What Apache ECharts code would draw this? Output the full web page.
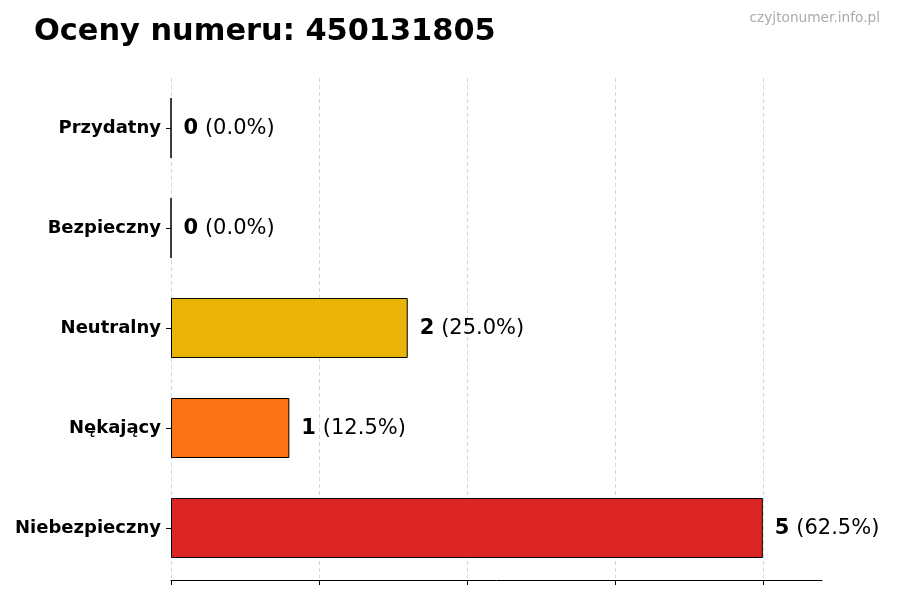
<!DOCTYPE html>
<html>
<head>
<meta charset="utf-8">
<title>Oceny numeru</title>
<script src="https://cdn.jsdelivr.net/npm/echarts@6.0.0/dist/echarts.min.js"></script>
<style>
  html, body { margin: 0; padding: 0; background: #fff; }
  #main { width: 900px; height: 600px; }
</style>
</head>
<body>
<div id="main"></div>
<script>
// dane z wykresu (od dołu do góry)
const categories = ['Niebezpieczny', 'Nękający', 'Neutralny', 'Bezpieczny', 'Przydatny'];
const counts = [5, 1, 2, 0, 0];
const barColors = ['#dc2626', '#f97316', '#eab308', '#22c55e', '#16a34a'];
const xTicks = [0, 1.25, 2.5, 3.75, 5];
const phone = '450131805';

const total = counts.reduce((a, b) => a + b, 0);
const font = 'DejaVu Sans';

const chart = echarts.init(document.getElementById('main'));

chart.setOption({
  animation: false,
  title: [
    {
      text: 'Oceny numeru: ' + phone,
      left: 29, top: 12,
      textStyle: { fontFamily: font, fontSize: 30.4, fontWeight: 'bold', color: '#000' }
    },
    {
      text: 'czyjtonumer.info.pl',
      right: 15, top: 6,
      textStyle: { fontFamily: font, fontSize: 13.7, fontWeight: 'normal', color: '#aaaaaa' }
    }
  ],
  grid: { left: 171, right: 78, top: 78, bottom: 22 },
  xAxis: {
    type: 'value',
    min: 0, max: 5.5,
    offset: 2,
    axisLine: { show: true, lineStyle: { color: '#000', width: 1 } },
    axisTick: { show: true, length: 5, customValues: xTicks, lineStyle: { color: '#000' } },
    axisLabel: { show: false },
    splitLine: { show: true, lineStyle: { color: '#cccccc', type: [4, 3], width: 0.8 } }
  },
  yAxis: {
    type: 'category',
    data: categories,
    axisLine: { show: false },
    axisTick: { show: true, alignWithLabel: true, length: 5, lineStyle: { color: '#000', width: 1 } },
    axisLabel: { fontFamily: font, fontSize: 18, fontWeight: 'bold', color: '#000', margin: 10, padding: [3, 0, 0, 0] },
    splitLine: { show: false }
  },
  series: [{
    type: 'bar',
    barWidth: '60%',
    data: counts.map((v, i) => ({
      value: v,
      itemStyle: { color: barColors[i] }
    })),
    itemStyle: { borderColor: '#000', borderWidth: 1 },
    label: {
      show: true,
      position: 'right',
      distance: 12,
      offset: [0, 1],
      fontFamily: font,
      formatter: p => '{b|' + p.value + '} {n|(' + (p.value / total * 100).toFixed(1) + '%)}',
      rich: {
        b: { fontFamily: font, fontSize: 21, fontWeight: 'bold', color: '#000' },
        n: { fontFamily: font, fontSize: 21, color: '#000', padding: [0, 0, 0, 3] }
      }
    }
  }]
});
</script>
</body>
</html>
